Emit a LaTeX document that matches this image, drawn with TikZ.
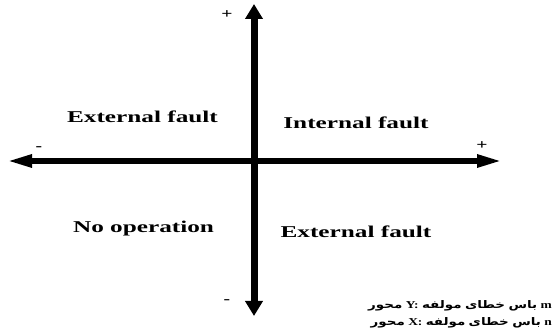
\documentclass[tikz,border=0pt]{standalone}
\usepackage{fontspec}
\setmainfont{Liberation Serif}
\newfontfamily\farsi[Script=Arabic]{DejaVu Sans}
\TeXXeTstate=1
\usepackage{tikz}
\usetikzlibrary{arrows.meta}
\newcommand{\fa}[1]{{\farsi\bfseries\beginR #1\endR}}

\begin{document}
\begin{tikzpicture}[
        x=1pt,y=-1pt,
        haxis/.style={{Triangle[length=25pt,width=12pt]}-{Triangle[length=25pt,width=12pt]},
                      line width=5.5pt},
        vaxis/.style={{Triangle[length=15pt,width=17pt]}-{Triangle[length=15pt,width=17pt]},
                      line width=7pt},
        region/.style={font=\bfseries\fontsize{16.5}{18}\selectfont,
                       xscale=1.53,transform shape,anchor=base,inner sep=0pt},
        sign/.style={font=\bfseries\fontsize{14}{15}\selectfont,
                     xscale=1.4,transform shape,inner sep=0pt},
        legend/.style={font=\bfseries\fontsize{10.5}{12}\selectfont,
                       xscale=1.28,transform shape,anchor=east,inner sep=0pt},
      ]
        \useasboundingbox (0,0) rectangle (558,336);
        % axes
        \coordinate (west) at (7,161);
        \coordinate (east) at (502,161);
        \coordinate (north) at (254,4);
        \coordinate (south) at (254,316);
        \draw[haxis](west)--(east);
        \draw[vaxis](south)--(north);
        % signs
        \node[sign](ptop) at (227,15){+};
        \node[sign](mleft) at (39,149){-};
        \node[sign](pright) at (482,146){+};
        \node[sign](mbot) at (227,302){-};
        % quadrants
        \node[region](q2) at (142.5,123){External fault};
        \node[region](q1) at (356,128.3){Internal fault};
        \node[region](q3) at (143.5,232.7){No operation};
        \node[region](q4) at (356,237.7){External fault};
        % legend
        \node[legend](ly) at (552,306){%
          \fa{محور} Y: \fa{مولفه} \fa{خطای} \fa{باس} m};
        \node[legend](lx) at (552,323){%
          \fa{محور} X: \fa{مولفه} \fa{خطای} \fa{باس} n};
      \end{tikzpicture}
\end{document}
